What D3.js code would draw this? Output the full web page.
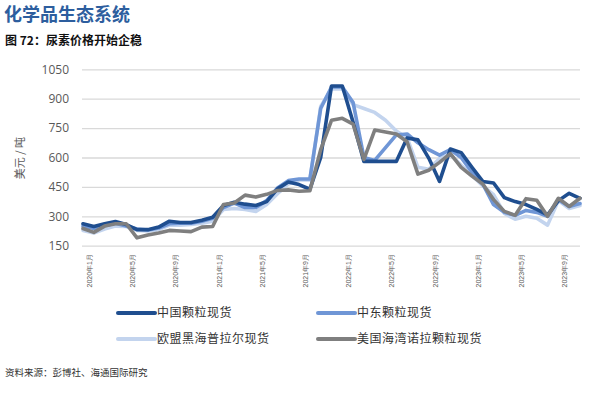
<!DOCTYPE html>
<html><head><meta charset="utf-8">
<script src="https://cdn.jsdelivr.net/npm/d3@7"></script>
<style>body{margin:0;background:#fff;}svg{display:block;font-family:"Noto Sans CJK SC","Noto Sans",sans-serif;}</style>
</head><body>
<svg id="c" width="596" height="395"></svg>
<script>
const months = [];
for (let y = 2020; y <= 2023; y++) for (let m = 1; m <= 12; m++) { if (y === 2023 && m > 11) break; months.push(y + "年" + m + "月"); }
const tickLabels = ["2020年1月","2020年5月","2020年9月","2021年1月","2021年5月","2021年9月","2022年1月","2022年5月","2022年9月","2023年1月","2023年5月","2023年9月"];
const yTicks = [150,300,450,600,750,900,1050];
const chinaValues = [262,248,262,273,258,232,232,245,275,268,268,280,295,355,372,362,355,375,440,475,462,438,600,965,965,780,580,580,580,580,700,690,597,478,643,625,550,478,470,395,375,360,335,307,380,417,392];
const middleEastValues = [250,238,252,265,250,235,230,240,262,265,265,275,290,345,368,345,345,380,445,482,490,490,850,960,960,880,600,585,650,715,720,675,640,612,640,600,525,465,360,320,305,330,320,300,385,350,365];
const euValues = [228,215,235,250,248,228,225,232,255,255,258,265,275,335,340,335,325,360,415,465,485,485,860,950,950,870,850,830,790,735,700,550,540,595,615,560,510,455,410,315,285,300,290,255,380,340,355];
const usValues = [238,218,250,262,262,190,205,215,228,225,222,245,248,360,368,408,398,412,432,435,428,430,640,790,800,770,590,740,730,720,680,515,535,575,620,550,505,465,385,325,305,390,382,300,392,350,392];
const seriesNames = ["中国颗粒现货","中东颗粒现货","欧盟黑海普拉尔现货","美国海湾诺拉颗粒现货"];
const seriesColors = ["#1F4E8F","#6F96D6","#C3D4EE","#7F7F7F"];

const svg = d3.select("#c");
const x = d3.scalePoint().domain(months).range([83, 580]);
const y = d3.scaleLinear().domain([150, 1050]).range([245.7, 69.3]);

// title
svg.append("text").attr("x", 4).attr("y", 21).attr("font-size", 18).attr("font-weight", "bold").attr("fill", "#2D5E9E").text("化学品生态系统");
svg.append("text").attr("x", 5).attr("y", 45).attr("font-size", 12).attr("font-weight", "bold").attr("fill", "#111").text("图 72：尿素价格开始企稳");

// grid
const yAxis = d3.axisLeft(y).tickValues(yTicks).tickSize(-(580 - 82)).tickFormat(d3.format("d"));
const gy = svg.append("g").attr("transform", "translate(82,0)").call(yAxis);
gy.select(".domain").remove();
gy.selectAll(".tick line").attr("stroke", "#D9D9D9").attr("stroke-width", 1.3);
gy.selectAll(".tick text").attr("x", -13).attr("font-size", 12).attr("fill", "#595959").attr("font-family", "Open Sans, Noto Sans, sans-serif");

svg.append("text").attr("transform", "translate(24,158) rotate(-90)").attr("text-anchor", "middle").attr("font-size", 11).attr("fill", "#595959").text("美元 / 吨");

// x labels
const xAxis = d3.axisBottom(x).tickValues(tickLabels).tickSize(0);
const gx = svg.append("g").attr("transform", "translate(0,246)").call(xAxis);
gx.select(".domain").remove();
gx.selectAll(".tick text").attr("transform", "translate(6,8) rotate(-90)").attr("text-anchor", "end").attr("dy", "0.35em").attr("x", 0).attr("y", 0).attr("font-size", 7).attr("fill", "#595959");

// lines
const allSeries = [chinaValues, middleEastValues, euValues, usValues];
const order = [2, 1, 0, 3];
const line = d3.line().x((d, i) => x(months[i])).y(d => y(d));
order.forEach(k => {
  svg.append("path").datum(allSeries[k]).attr("d", line).attr("fill", "none")
    .attr("stroke", seriesColors[k]).attr("stroke-width", 3.6).attr("stroke-linejoin", "round").attr("stroke-linecap", "round");
});

// legend
const legendPos = [[118, 313], [318, 313], [118, 339], [318, 339]];
seriesNames.forEach((n, k) => {
  const [lx, ly] = legendPos[k];
  svg.append("line").attr("x1", lx).attr("x2", lx + 37).attr("y1", ly).attr("y2", ly).attr("stroke", seriesColors[k]).attr("stroke-width", 4).attr("stroke-linecap", "round");
  svg.append("text").attr("x", lx + 39).attr("y", ly).attr("dy", "0.35em").attr("font-size", 12).attr("letter-spacing", 0.5).attr("fill", "#333").text(n);
});

svg.append("text").attr("x", 5).attr("y", 376).attr("font-size", 9.5).attr("fill", "#333").text("资料来源：彭博社、海通国际研究");
</script>
</body></html>
